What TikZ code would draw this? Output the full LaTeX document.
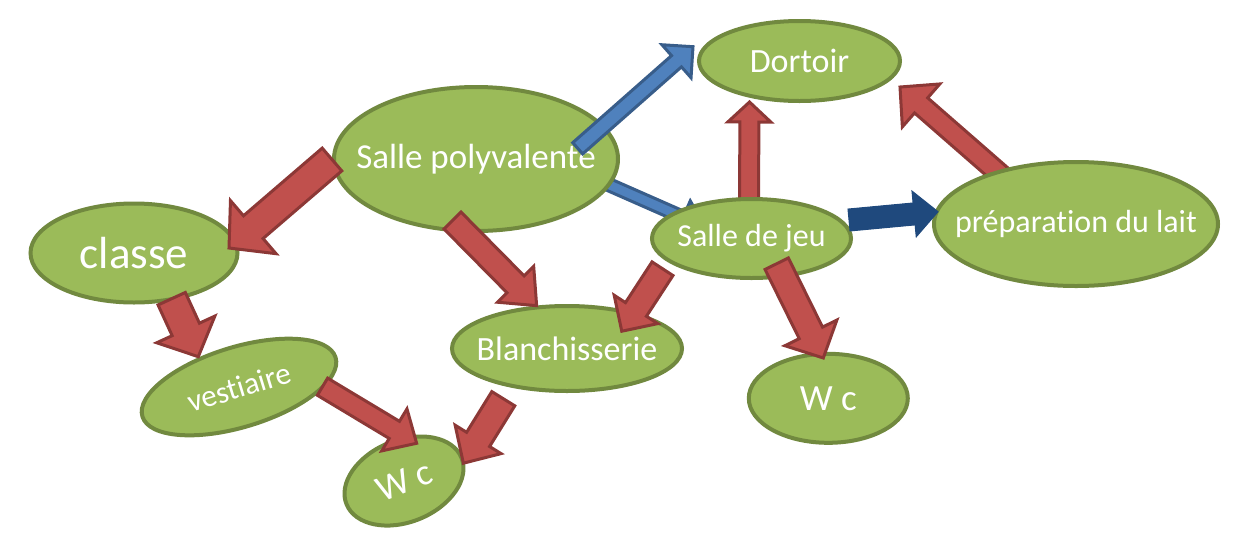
\documentclass[tikz,border=0pt]{standalone}
\usepackage{fontspec}
\setmainfont{Carlito}[RawFeature={-liga;-clig;-dlig}]
\usetikzlibrary{shapes.geometric,calc,backgrounds}
\definecolor{roomFill}{HTML}{9BBB59}
\definecolor{roomLine}{HTML}{71893F}
\definecolor{arrowRed}{HTML}{C0504D}
\definecolor{arrowRedLine}{HTML}{8C3836}
\definecolor{arrowBlue}{HTML}{4F81BD}
\definecolor{arrowBlueLine}{HTML}{385D8A}
\definecolor{arrowNavy}{HTML}{1F497D}
\newcommand{\pRoomText}[2]{\makebox[0pt][c]{\raisebox{-3pt}{\fontsize{#1}{#1}\selectfont #2}}}
\newcommand{\pBlockArrow}[6]{%
  \draw[#1] let \p1=#2, \p2=#3, \n1={atan2(\y2-\y1,\x2-\x1)}, \n2={veclen(\x2-\x1,\y2-\y1)} in
    {[shift={(\p1)}, rotate=\n1] (0pt,-#4pt) -- (\n2-#6pt,-#4pt) -- (\n2-#6pt,-#5pt) -- (\n2,0pt)
      -- (\n2-#6pt,#5pt) -- (\n2-#6pt,#4pt) -- (0pt,#4pt) -- cycle};}
\tikzset{
  pRoom/.style={ellipse, draw=roomLine, fill=roomFill, line width=4pt, inner sep=0pt, text=white},
  pRed/.style={fill=arrowRed, draw=arrowRedLine, line width=3pt},
  pBlue/.style={fill=arrowBlue, draw=arrowBlueLine, line width=3pt},
  pNavy/.style={fill=arrowNavy, draw=arrowNavy, line width=1pt}}

\begin{document}
\begin{tikzpicture}[x=1pt,y=-1pt]
\useasboundingbox (0,0) rectangle (1236,539);
\node[pRoom, minimum width=201pt, minimum height=80pt] (dortoir) at (799.5,61) {\pRoomText{34}{Dortoir}};
\node[pRoom, minimum width=284pt, minimum height=144pt] (sallePoly) at (476,159) {\pRoomText{35}{Salle polyvalente}};
\node[pRoom, minimum width=199pt, minimum height=79pt] (salleJeu) at (751.5,238.5) {\pRoomText{32}{Salle de jeu}};
\node[pRoom, minimum width=284pt, minimum height=124pt] (prepLait) at (1076,224) {\pRoomText{32}{préparation du lait}};
\node[pRoom, minimum width=207pt, minimum height=99pt] (classe) at (134,253) {\pRoomText{45}{classe}};
\node[pRoom, minimum width=202pt, minimum height=80pt, rotate=17] (vestiaire) at (239,387) {\pRoomText{31}{vestiaire}};
\node[pRoom, minimum width=230pt, minimum height=85pt] (blanch) at (567,348.5) {\pRoomText{34}{Blanchisserie}};
\node[pRoom, minimum width=124pt, minimum height=82pt, rotate=22] (wcGauche) at (404,481) {\pRoomText{37}{W c}};
\node[pRoom, minimum width=159pt, minimum height=89pt] (wcDroite) at (828.3,398.3) {\pRoomText{37}{W c}};
\begin{scope}[on background layer]
\pBlockArrow{pBlue}{([shift={(-15,24)}]sallePoly.east)}{([shift={(55,-11.5)}]salleJeu.west)}{6}{18}{24}
\pBlockArrow{pRed}{([shift={(-2.5,6)}]salleJeu.north)}{([shift={(-50,-1)}]dortoir.south)}{9.5}{21.5}{20}
\pBlockArrow{pRed}{([shift={(-66,23)}]prepLait.north)}{([shift={(-2,26)}]dortoir.east)}{10}{28.5}{28}
\end{scope}
\pBlockArrow{pRed}{([shift={(0,0.5)}]sallePoly.west)}{([shift={(-10.5,-5)}]classe.east)}{15}{35}{32}
\pBlockArrow{pRed}{([shift={(-23.5,-12.5)}]sallePoly.south)}{([shift={(-30,2)}]blanch.north)}{12}{25.5}{30}
\pBlockArrow{pBlue}{([shift={(-42.3,-10.7)}]sallePoly.east)}{([shift={(-4,-14.3)}]dortoir.west)}{7.5}{22}{22}
\pBlockArrow{pNavy}{([shift={(-4,-18.5)}]salleJeu.east)}{([shift={(6,-12.3)}]prepLait.west)}{11}{23}{24}
\pBlockArrow{pRed}{([shift={(-89,-11.3)}]salleJeu.south)}{([shift={(54.7,27.3)}]blanch.north)}{12.5}{26}{26}
\pBlockArrow{pRed}{([shift={(25.2,-16.3)}]salleJeu.south)}{([shift={(-5,6.2)}]wcDroite.north)}{13}{29}{28}
\pBlockArrow{pRed}{([shift={(37.7,-5.8)}]classe.south)}{([shift={(-40.7,-30.3)}]vestiaire.center)}{15}{32}{30}
\pBlockArrow{pRed}{([shift={(83.5,-0.3)}]vestiaire.center)}{([shift={(12.7,-37.7)}]wcGauche.center)}{10}{24.5}{26}
\pBlockArrow{pRed}{([shift={(-63.7,5.7)}]blanch.south)}{([shift={(59.3,-17.7)}]wcGauche.center)}{13.5}{27}{28}
\end{tikzpicture}
\end{document}
